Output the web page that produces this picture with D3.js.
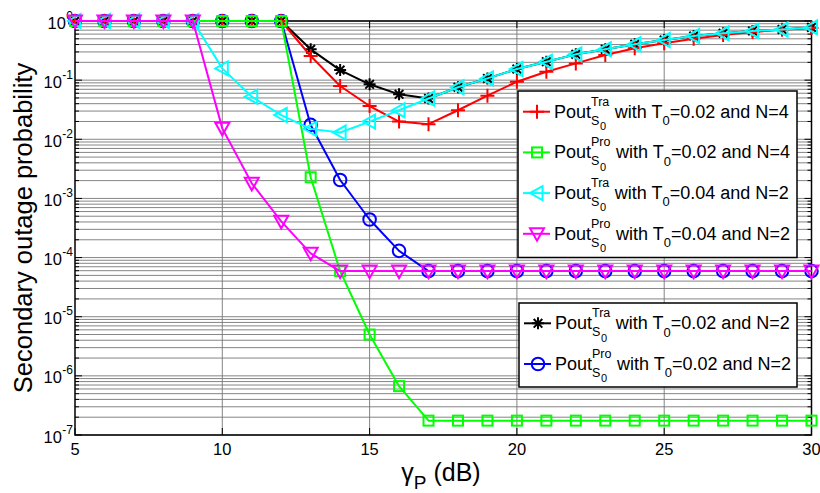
<!DOCTYPE html>
<html><head><meta charset="utf-8">
<script src="https://cdn.jsdelivr.net/npm/d3@7"></script>
<style>
body{margin:0;background:#fff;}
text{font-family:"Liberation Sans",Arial,Helvetica,sans-serif;fill:#000;}
</style></head>
<body><svg id="chart" width="820" height="493"></svg>
<script>
// ---------------- data ----------------
const xValues = [5,6,7,8,9,10,11,12,13,14,15,16,17,18,19,20,21,22,23,24,25,26,27,28,29,30];
const traT002N2 = [1,1,1,1,1,1,1,1,0.332,0.148,0.085,0.0575,0.049,0.0758,0.107,0.154,0.205,0.273,0.332,0.404,0.477,0.557,0.62,0.68,0.72,0.78];
const proT002N2 = [1,1,1,1,1,1,1,1,0.0175,0.00205,0.00044,0.00013,0.000059,0.000059,0.000059,0.000059,0.000059,0.000059,0.000059,0.000059,0.000059,0.000059,0.000059,0.000059,0.000059,0.000059];
const traT002N4 = [1,1,1,1,1,1,1,1,0.256,0.0796,0.0365,0.0199,0.018,0.031,0.0546,0.094,0.139,0.192,0.266,0.345,0.42,0.5,0.58,0.65,0.71,0.76];
const proT002N4 = [1,1,1,1,1,1,1,1,0.00228,0.000059,0.000005,0.00000067,0.000000175,0.000000175,0.000000175,0.000000175,0.000000175,0.000000175,0.000000175,0.000000175,0.000000175,0.000000175,0.000000175,0.000000175,0.000000175,0.000000175];
const traT004N2 = [1,1,1,1,1,0.158,0.0525,0.0257,0.015,0.013,0.0199,0.031,0.049,0.0758,0.107,0.154,0.205,0.273,0.332,0.404,0.477,0.557,0.62,0.68,0.72,0.78];
const proT004N2 = [1,1,1,1,1,0.0153,0.0018,0.00041,0.000118,0.000059,0.000059,0.000059,0.000059,0.000059,0.000059,0.000059,0.000059,0.000059,0.000059,0.000059,0.000059,0.000059,0.000059,0.000059,0.000059,0.000059];
const xTicks = [5,10,15,20,25,30];
const yExponents = [0,-1,-2,-3,-4,-5,-6,-7];
const xLabel = "γ", xLabelSub = "P", xLabelRest = " (dB)";
const yLabel = "Secondary outage probability";

const series = [
  {name:"traT002N2", values:traT002N2, color:"#000000", marker:"star",   sup:"Tra", rest:"=0.02 and N=2"},
  {name:"proT002N2", values:proT002N2, color:"#0000ff", marker:"circle", sup:"Pro", rest:"=0.02 and N=2"},
  {name:"traT002N4", values:traT002N4, color:"#ff0000", marker:"plus",   sup:"Tra", rest:"=0.02 and N=4"},
  {name:"proT002N4", values:proT002N4, color:"#00ff00", marker:"square", sup:"Pro", rest:"=0.02 and N=4"},
  {name:"traT004N2", values:traT004N2, color:"#00ffff", marker:"tleft",  sup:"Tra", rest:"=0.04 and N=2"},
  {name:"proT004N2", values:proT004N2, color:"#ff00ff", marker:"tdown",  sup:"Pro", rest:"=0.04 and N=2"}
];
const legend1Order = ["traT002N4","proT002N4","traT004N2","proT004N2"];
const legend2Order = ["traT002N2","proT002N2"];

// ---------------- layout ----------------
const svg = d3.select("#chart");
const L = 75, R = 811.5, T = 21, B = 435;
const x = d3.scaleLinear().domain([5,30]).range([L,R]);
const y = d3.scaleLog().domain([1e-7,1]).range([B,T]);

// grid
const grid = svg.append("g").attr("stroke","#777").attr("stroke-width",0.9);
const minorVals = [];
for (let e=-7;e<0;e++) for (let m=1;m<10;m++) minorVals.push(m*Math.pow(10,e));
minorVals.push(1);
grid.selectAll("line.h").data(minorVals).join("line")
  .attr("x1",L).attr("x2",R).attr("y1",d=>y(d)).attr("y2",d=>y(d));
grid.selectAll("line.v").data(xTicks.slice(1,-1)).join("line")
  .attr("x1",d=>x(d)).attr("x2",d=>x(d)).attr("y1",T).attr("y2",B);

// ticks
const tk = svg.append("g").attr("stroke","#000").attr("stroke-width",1);
xTicks.forEach(v=>{
  tk.append("line").attr("x1",x(v)).attr("x2",x(v)).attr("y1",B).attr("y2",B-7);
  tk.append("line").attr("x1",x(v)).attr("x2",x(v)).attr("y1",T).attr("y2",T+7);
});
minorVals.forEach(v=>{
  const major = Math.abs(Math.log10(v)-Math.round(Math.log10(v)))<1e-9;
  const len = major?7:4;
  tk.append("line").attr("x1",L).attr("x2",L+len).attr("y1",y(v)).attr("y2",y(v));
  tk.append("line").attr("x1",R).attr("x2",R-len).attr("y1",y(v)).attr("y2",y(v));
});
svg.append("rect").attr("x",L).attr("y",T).attr("width",R-L).attr("height",B-T)
  .attr("fill","none").attr("stroke","#000").attr("stroke-width",1.5);

// tick labels
svg.append("g").selectAll("text").data(xTicks).join("text")
  .attr("x",d=>x(d)).attr("y",455).attr("text-anchor","middle")
  .attr("font-size","16.5px").text(d=>d);
yExponents.forEach(e=>{
  const yy = y(Math.pow(10,e));
  const ex = svg.append("text").attr("x",73).attr("y",yy-1.5).attr("text-anchor","end")
    .attr("font-size","12px").text(e);
  const w = ex.node().getComputedTextLength();
  svg.append("text").attr("x",73-w-0.5).attr("y",yy+7.5).attr("text-anchor","end")
    .attr("font-size","16.5px").text("10");
});

// axis labels
const xl = svg.append("text").attr("y",481).attr("font-size","25px");
xl.append("tspan").text(xLabel);
xl.append("tspan").attr("font-size","19px").attr("dy",8).text(xLabelSub);
xl.append("tspan").attr("dy",-8).text(xLabelRest);
xl.attr("x", 441 - xl.node().getBBox().width/2);
svg.append("text").attr("transform",`translate(32,${(T+B)/2}) rotate(-90)`)
  .attr("text-anchor","middle").attr("font-size","25.5px").text(yLabel);

// markers
function drawMarker(g, type, cx, cy, color){
  const sw = 2;
  if (type==="plus"){
    g.append("path").attr("d",`M${cx-7},${cy}H${cx+7}M${cx},${cy-7}V${cy+7}`).attr("stroke",color).attr("stroke-width",sw).attr("fill","none");
  } else if (type==="star"){
    const r=6, r2=4.3;
    g.append("path").attr("d",`M${cx-r},${cy}H${cx+r}M${cx},${cy-r}V${cy+r}M${cx-r2},${cy-r2}L${cx+r2},${cy+r2}M${cx-r2},${cy+r2}L${cx+r2},${cy-r2}`)
      .attr("stroke",color).attr("stroke-width",sw).attr("fill","none");
  } else if (type==="circle"){
    g.append("circle").attr("cx",cx).attr("cy",cy).attr("r",6.3).attr("stroke",color).attr("stroke-width",sw).attr("fill","none");
  } else if (type==="square"){
    g.append("rect").attr("x",cx-5).attr("y",cy-5).attr("width",10).attr("height",10).attr("stroke",color).attr("stroke-width",sw).attr("fill","none");
  } else if (type==="tdown"){
    g.append("path").attr("d",`M${cx-7},${cy-5.5}L${cx+7},${cy-5.5}L${cx},${cy+7}Z`).attr("stroke",color).attr("stroke-width",sw).attr("fill","none");
  } else if (type==="tleft"){
    g.append("path").attr("d",`M${cx+5.5},${cy-7}L${cx+5.5},${cy+7}L${cx-7},${cy}Z`).attr("stroke",color).attr("stroke-width",sw).attr("fill","none");
  }
}

const line = d3.line().x(d=>x(d[0])).y(d=>y(d[1]));
series.forEach(s=>{
  const pts = xValues.map((v,i)=>[v,s.values[i]]);
  const g = svg.append("g");
  g.append("path").datum(pts).attr("d",line).attr("fill","none")
    .attr("stroke",s.color).attr("stroke-width",2).attr("stroke-linejoin","round");
  pts.forEach(p=>drawMarker(g,s.marker,x(p[0]),y(p[1]),s.color));
});

// legends
function drawLegend(order, bx, by, bw, bh, firstRowY){
  const g = svg.append("g");
  g.append("rect").attr("x",bx).attr("y",by).attr("width",bw).attr("height",bh)
    .attr("fill","#fff").attr("stroke","#000").attr("stroke-width",1.5);
  order.forEach((n,i)=>{
    const s = series.find(d=>d.name===n);
    const ry = firstRowY + i*40.7;
    g.append("line").attr("x1",bx+5).attr("x2",bx+32).attr("y1",ry).attr("y2",ry)
      .attr("stroke",s.color).attr("stroke-width",2);
    drawMarker(g,s.marker,bx+19,ry,s.color);
    let cx = bx+36;
    const t1 = g.append("text").attr("x",cx).attr("y",ry+5.8).attr("font-size","18px").text("Pout");
    cx += t1.node().getComputedTextLength();
    const sup = g.append("text").attr("x",cx).attr("y",ry-6).attr("font-size","12.5px").text(s.sup);
    const sS = g.append("text").attr("x",cx).attr("y",ry+12.8).attr("font-size","12.5px").text("S");
    const wS = sS.node().getComputedTextLength();
    const s0 = g.append("text").attr("x",cx+wS+0.5).attr("y",ry+18.3).attr("font-size","11px").text("0");
    const end = Math.max(cx+sup.node().getComputedTextLength(), cx+wS+0.5+s0.node().getComputedTextLength());
    cx = end + 5.5;
    const t2 = g.append("text").attr("x",cx).attr("y",ry+5.8).attr("font-size","18px").text("with T");
    cx += t2.node().getComputedTextLength();
    const t0 = g.append("text").attr("x",cx).attr("y",ry+13.3).attr("font-size","13px").text("0");
    cx += t0.node().getComputedTextLength();
    g.append("text").attr("x",cx).attr("y",ry+5.8).attr("font-size","18px").text(s.rest);
  });
}
drawLegend(legend1Order, 518, 91, 279, 166.5, 111.7);
drawLegend(legend2Order, 519, 303, 278, 84, 323.3);
</script></body></html>
